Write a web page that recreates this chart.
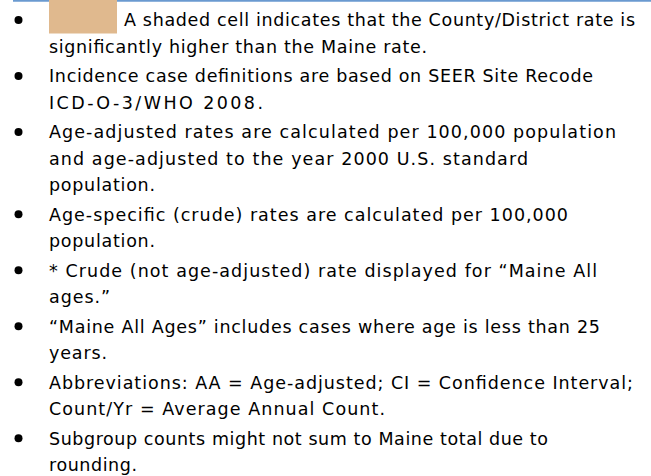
<!DOCTYPE html>
<html lang="en">
  <head>
    <meta charset="UTF-8" />
    <script src="https://d3js.org/d3.v7.min.js"></script>
    <title>Notes</title>
    <style>
      body { margin: 0; background: #fff; }
    </style>
  </head>
  <body>
    <div id="chart-container"></div>

    <script>
      // one entry per bullet, already wrapped as in the slide
      const noteLines = [
        ["A shaded cell indicates that the County/District rate is",
         "significantly higher than the Maine rate."],
        ["Incidence case definitions are based on SEER Site Recode",
         "ICD-O-3/WHO 2008."],
        ["Age-adjusted rates are calculated per 100,000 population",
         "and age-adjusted to the year 2000 U.S. standard",
         "population."],
        ["Age-specific (crude) rates are calculated per 100,000",
         "population."],
        ["* Crude (not age-adjusted) rate displayed for \u201cMaine All",
         "ages.\u201d"],
        ["\u201cMaine All Ages\u201d includes cases where age is less than 25",
         "years."],
        ["Abbreviations: AA = Age-adjusted; CI = Confidence Interval;",
         "Count/Yr = Average Annual Count."],
        ["Subgroup counts might not sum to Maine total due to",
         "rounding."],
      ];
      const shadeColor = "#e0b98e";

      // layout: right edge of each wrapped line in the slide (px)
      const lineEnds = [
        [635, 427], [593, 263], [616, 528, 155], [568, 155],
        [597, 110], [600, 107], [633, 385], [548, 137],
      ];

      const width = 651;
      const height = 476;
      const lineH = 26.3;
      const gapH = 29.7;
      const textX = 49;

      const svg = d3
        .select("#chart-container")
        .append("svg")
        .attr("width", width)
        .attr("height", height);

      // top rule
      svg.append("line")
        .attr("x1", 13).attr("x2", width)
        .attr("y1", 0.8).attr("y2", 0.8)
        .attr("stroke", "#6a9ad0")
        .attr("stroke-width", 1.8);

      let flat = [];
      let yb = 20;
      noteLines.forEach((lines, i) => {
        lines.forEach((t, j) => {
          const x0 = i === 0 && j === 0 ? 124 : textX;
          flat.push({
            text: t, bullet: i, line: j, x: x0,
            len: lineEnds[i][j] - x0,
            y: yb + 6.3 + j * lineH,
          });
        });
        yb += (lines.length - 1) * lineH + gapH;
      });
      const bulletY = flat.filter((d) => d.line === 0).map((d) => d.y - 6.3);

      // shaded sample cell on the first line
      svg.append("rect")
        .attr("x", textX).attr("y", 0)
        .attr("width", 68).attr("height", 33.5)
        .attr("fill", shadeColor);

      svg.selectAll("circle.bullet")
        .data(bulletY)
        .join("circle")
        .attr("class", "bullet")
        .attr("cx", 18.5)
        .attr("cy", (d) => d)
        .attr("r", 4)
        .attr("fill", "#000");

      svg.selectAll("text.note")
        .data(flat)
        .join("text")
        .attr("class", "note")
        .attr("x", (d) => d.x)
        .attr("y", (d) => d.y)
        .attr("textLength", (d) => d.len)
        .attr("lengthAdjust", "spacing")
        .attr("fill", "#000")
        .style("font-family", '"DejaVu Sans", sans-serif')
        .style("font-size", "17.5px")
        .text((d) => d.text);
    </script>
  </body>
</html>
